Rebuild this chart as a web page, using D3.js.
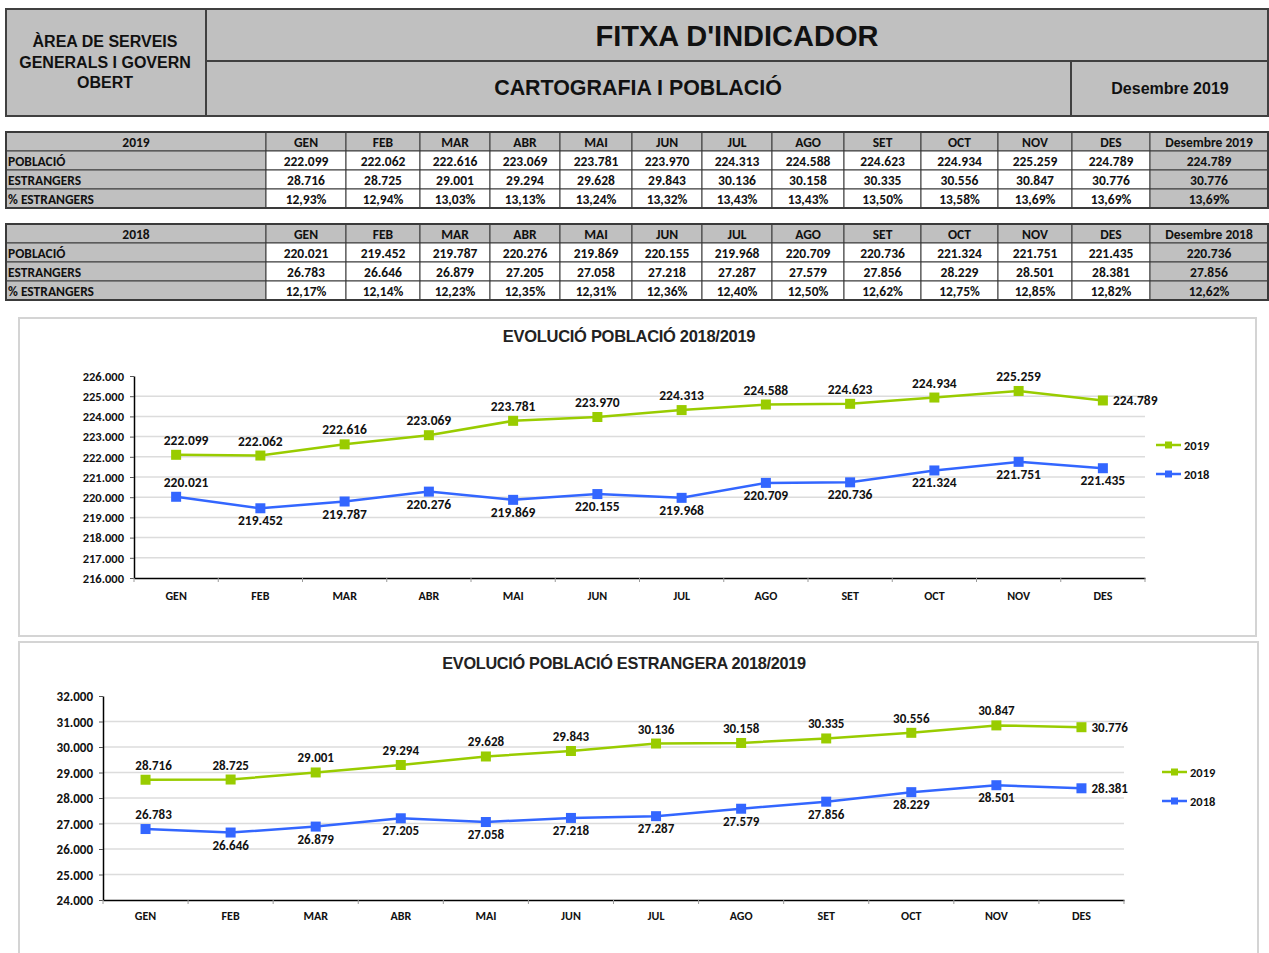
<!DOCTYPE html>
<html><head><meta charset="utf-8">
<script src="https://cdn.jsdelivr.net/npm/d3@7"></script>
<style>
html,body{margin:0;padding:0;background:#fff;}
svg{display:block;}
.hdr{font-family:"Liberation Sans Narrow","Arial Narrow","Liberation Sans",Arial,sans-serif;font-weight:bold;fill:#111;}
.ttl{font-family:"Liberation Sans",Arial,sans-serif;font-weight:bold;fill:#222;}
.tb{font-family:Carlito,Lato,"Open Sans",sans-serif;font-weight:bold;fill:#111;}
</style></head><body>
<svg id="c" width="1269" height="953"></svg>
<script>
// ---- DATA ----
const months = ["GEN","FEB","MAR","ABR","MAI","JUN","JUL","AGO","SET","OCT","NOV","DES"];
const rowLabels = ["POBLACIÓ","ESTRANGERS","% ESTRANGERS"];
const pob2019 = [222099,222062,222616,223069,223781,223970,224313,224588,224623,224934,225259,224789];
const est2019 = [28716,28725,29001,29294,29628,29843,30136,30158,30335,30556,30847,30776];
const pct2019 = [12.93,12.94,13.03,13.13,13.24,13.32,13.43,13.43,13.50,13.58,13.69,13.69];
const sum2019 = [224789,30776,13.69];
const pob2018 = [220021,219452,219787,220276,219869,220155,219968,220709,220736,221324,221751,221435];
const est2018 = [26783,26646,26879,27205,27058,27218,27287,27579,27856,28229,28501,28381];
const pct2018 = [12.17,12.14,12.23,12.35,12.31,12.36,12.40,12.50,12.62,12.75,12.85,12.82];
const sum2018 = [220736,27856,12.62];
const popTicks = [216000,217000,218000,219000,220000,221000,222000,223000,224000,225000,226000];
const forTicks = [24000,25000,26000,27000,28000,29000,30000,31000,32000];
const seriesNames = ["2019","2018"];

// ---- helpers ----
const loc = d3.formatLocale({decimal:",",thousands:".",grouping:[3],currency:["","€"]});
const fInt = loc.format(",d");
const fPct = v => loc.format(".2f")(v) + "%";
const GREEN = "#99cc00", BLUE = "#3366ff";
const svg = d3.select("#c");

// ---- HEADER ----
const H = svg.append("g");
H.append("rect").attr("x",6).attr("y",9).attr("width",1262).attr("height",107)
  .attr("fill","#c0c0c0").attr("stroke","#404040").attr("stroke-width",2);
H.append("line").attr("x1",206).attr("x2",206).attr("y1",9).attr("y2",116).attr("stroke","#404040").attr("stroke-width",2);
H.append("line").attr("x1",206).attr("x2",1268).attr("y1",61).attr("y2",61).attr("stroke","#404040").attr("stroke-width",2);
H.append("line").attr("x1",1071).attr("x2",1071).attr("y1",61).attr("y2",116).attr("stroke","#404040").attr("stroke-width",2);
["ÀREA DE SERVEIS","GENERALS I GOVERN","OBERT"].forEach((t,i)=>{
  H.append("text").attr("class","hdr").attr("x",105).attr("y",47+i*20.5).attr("text-anchor","middle")
   .attr("font-size",16).text(t);
});
H.append("text").attr("class","hdr").attr("x",737).attr("y",46).attr("text-anchor","middle").attr("font-size",29).text("FITXA D'INDICADOR");
H.append("text").attr("class","hdr").attr("x",638).attr("y",95).attr("text-anchor","middle").attr("font-size",21.4).text("CARTOGRAFIA I POBLACIÓ");
H.append("text").attr("class","hdr").attr("x",1170).attr("y",94).attr("text-anchor","middle").attr("font-size",16).text("Desembre 2019");

// ---- TABLES ----
const colEdges = [6,266,346,420,490,560,632,702,772,844,921,998,1072,1150,1268];
function drawTable(y0, year, rows, summary){
  const g = svg.append("g");
  const rh = 19;
  const header = [year].concat(months).concat(["Desembre " + year]);
  for(let r=0;r<4;r++){
    for(let c=0;c<colEdges.length-1;c++){
      const gray = (r===0 || c===0 || c===colEdges.length-2);
      g.append("rect").attr("x",colEdges[c]).attr("y",y0+r*rh)
        .attr("width",colEdges[c+1]-colEdges[c]).attr("height",rh)
        .attr("fill",gray?"#c0c0c0":"#fff").attr("stroke","#3a3a3a").attr("stroke-width",1);
    }
  }
  g.append("rect").attr("x",6).attr("y",y0).attr("width",1262).attr("height",rh*4)
    .attr("fill","none").attr("stroke","#3a3a3a").attr("stroke-width",2);
  header.forEach((t,c)=>{
    g.append("text").attr("class","tb").attr("font-size",13.5)
      .attr("x",(colEdges[c]+colEdges[c+1])/2).attr("y",y0+14.5).attr("text-anchor","middle").text(t);
  });
  rows.forEach((vals,r)=>{
    const y = y0+(r+1)*rh+14.5;
    g.append("text").attr("class","tb").attr("font-size",13.5).attr("x",8).attr("y",y).text(rowLabels[r]);
    const fmt = r===2 ? fPct : fInt;
    vals.concat([summary[r]]).forEach((v,c)=>{
      g.append("text").attr("class","tb").attr("font-size",13.5)
        .attr("x",(colEdges[c+1]+colEdges[c+2])/2).attr("y",y).attr("text-anchor","middle").text(fmt(v));
    });
  });
}
drawTable(132,"2019",[pob2019,est2019,pct2019],sum2019);
drawTable(224,"2018",[pob2018,est2018,pct2018],sum2018);

// ---- CHARTS ----
function drawChart(cfg){
  const g = svg.append("g");
  g.append("rect").attr("x",cfg.box[0]).attr("y",cfg.box[1]).attr("width",cfg.box[2]).attr("height",cfg.box[3])
    .attr("fill","#fff").attr("stroke","#d4d4d4").attr("stroke-width",2);
  g.append("text").attr("class","ttl").attr("x",cfg.titleX).attr("y",cfg.titleY).attr("text-anchor","middle")
    .attr("font-size",cfg.titleSize).attr("letter-spacing",-0.3).text(cfg.title);
  const x = d3.scaleBand().domain(months).range([cfg.x0,cfg.x1]);
  const y = d3.scaleLinear().domain([cfg.ticks[0],cfg.ticks[cfg.ticks.length-1]]).range([cfg.yb,cfg.yt]);
  g.append("g").selectAll("line").data(cfg.ticks.slice(1,-1)).join("line")
    .attr("x1",cfg.x0).attr("x2",cfg.x1).attr("y1",d=>y(d)).attr("y2",d=>y(d))
    .attr("stroke","#dcdcdc").attr("stroke-width",1.5);
  const ya = g.append("g").attr("transform",`translate(${cfg.x0},0)`)
    .call(d3.axisLeft(y).tickValues(cfg.ticks).tickFormat(fInt).tickSize(4).tickSizeOuter(0));
  ya.select(".domain").attr("stroke","#000").attr("stroke-width",1.5);
  ya.selectAll(".tick line").attr("stroke","#555");
  ya.selectAll("text").attr("class","tb").attr("font-size",cfg.yLabSize).attr("x",-10).attr("dy","0.35em");
  const xa = g.append("g").attr("transform",`translate(0,${cfg.yb})`)
    .call(d3.axisBottom(x).tickSize(0).tickSizeOuter(0));
  xa.select(".domain").attr("stroke","#000").attr("stroke-width",1.5);
  xa.selectAll("text").attr("class","tb").attr("font-size",12).attr("y",cfg.xLabOff).attr("dy","0");
  g.append("g").selectAll("line").data(d3.range(months.length+1)).join("line")
    .attr("x1",i=>cfg.x0+i*x.step()).attr("x2",i=>cfg.x0+i*x.step())
    .attr("y1",cfg.yb).attr("y2",cfg.yb+4).attr("stroke","#999").attr("stroke-width",1);
  const cx = m => x(m)+x.bandwidth()/2;
  cfg.series.forEach(s=>{
    const pts = s.values.map((v,i)=>({m:months[i],v,i}));
    g.append("path").datum(pts).attr("fill","none").attr("stroke",s.color).attr("stroke-width",2.5)
      .attr("d",d3.line().x(d=>cx(d.m)).y(d=>y(d.v)));
    g.append("g").selectAll("rect").data(pts).join("rect")
      .attr("x",d=>cx(d.m)-5).attr("y",d=>y(d.v)-5).attr("width",10).attr("height",10).attr("fill",s.color);
    g.append("g").selectAll("text").data(pts).join("text").attr("class","tb").attr("font-size",cfg.labSize)
      .attr("fill","#1a1a1a")
      .attr("x",d=>{const p=s.pos(d.i); return p==="right"? cx(d.m)+10 : cx(d.m)+(d.i===0?cfg.firstShift:0);})
      .attr("y",d=>{const p=s.pos(d.i); return p==="above"? y(d.v)-10 : p==="below"? y(d.v)+17 : y(d.v)+4.5;})
      .attr("text-anchor",d=>s.pos(d.i)==="right"?"start":"middle")
      .text(d=>fInt(d.v));
  });
  cfg.series.forEach((s,k)=>{
    const ly = cfg.legY + k*cfg.legGap;
    g.append("line").attr("x1",cfg.legX).attr("x2",cfg.legX+25).attr("y1",ly).attr("y2",ly).attr("stroke",s.color).attr("stroke-width",2.5);
    g.append("rect").attr("x",cfg.legX+9).attr("y",ly-3.5).attr("width",7).attr("height",7).attr("fill",s.color);
    g.append("text").attr("class","tb").attr("font-size",12.5).attr("x",cfg.legX+28).attr("y",ly+4.5).text(s.name);
  });
}

drawChart({
  box:[19,318,1237,318], title:"EVOLUCIÓ POBLACIÓ 2018/2019", titleX:629, titleY:342, titleSize:16.5,
  x0:134, x1:1145, yt:376, yb:578, ticks:popTicks, xLabOff:22, labSize:13.5, yLabSize:12.5, firstShift:10,
  legX:1156, legY:445, legGap:29,
  series:[
    {name:seriesNames[0], values:pob2019, color:GREEN, pos:i=> i===11?"right":"above"},
    {name:seriesNames[1], values:pob2018, color:BLUE, pos:i=> i===0?"above":"below"}
  ]
});
drawChart({
  box:[19,642,1239,320], title:"EVOLUCIÓ POBLACIÓ ESTRANGERA 2018/2019", titleX:624, titleY:669, titleSize:16.3,
  x0:103, x1:1124, yt:696, yb:900, ticks:forTicks, xLabOff:20, labSize:13, yLabSize:13, firstShift:8,
  legX:1162, legY:772, legGap:29,
  series:[
    {name:seriesNames[0], values:est2019, color:GREEN, pos:i=> i===11?"right":"above"},
    {name:seriesNames[1], values:est2018, color:BLUE, pos:i=> i===0?"above":(i===11?"right":"below")}
  ]
});
</script>
</body></html>
